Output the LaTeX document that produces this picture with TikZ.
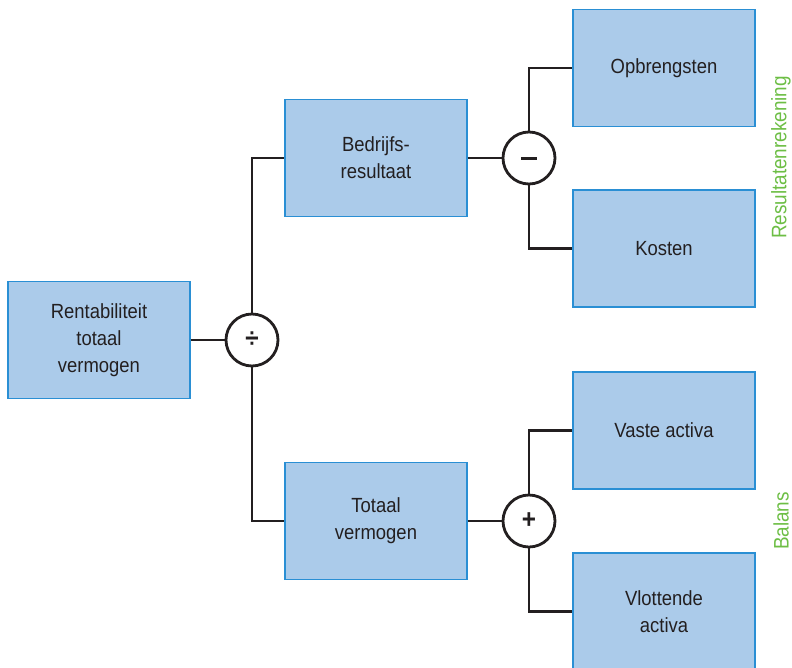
\documentclass[tikz,border=0pt]{standalone}
\usepackage{fontspec}
\setmainfont{Liberation Sans}[FakeStretch=0.9]
\definecolor{boxfill}{HTML}{ABCBEA}
\definecolor{boxline}{HTML}{2A8FD4}
\definecolor{linec}{HTML}{231F20}
\definecolor{greentxt}{HTML}{6DBE45}
\tikzset{
  bx/.style={draw=boxline, line width=1.3pt, fill=boxfill, minimum width=182pt, minimum height=117pt,
    inner sep=0pt, align=center, font=\fontsize{20.5}{27}\selectfont, text=linec},
  op/.style={circle, draw=linec, line width=2.8pt, fill=white, minimum size=52pt, inner sep=0pt,
    font=\fontsize{27}{27}\selectfont\bfseries, text=linec},
  conn/.style={draw=linec, line width=2.8pt},
  side/.style={text=greentxt, font=\fontsize{21}{21}\selectfont, rotate=90}
}
\begin{document}
\begin{tikzpicture}[x=1pt,y=-1pt]
\useasboundingbox (0,0) rectangle (792,667);
\clip (0,0) rectangle (792,667);
\node[bx] (rent) at (99,340) {Rentabiliteit\\totaal\\vermogen};
\node[bx] (bedr) at (376,158) {Bedrijfs-\\resultaat};
\node[bx] (totv) at (376,521) {Totaal\\vermogen};
\node[bx] (opbr) at (664,68) {Opbrengsten};
\node[bx] (kost) at (664,248.5) {Kosten};
\node[bx] (vast) at (664,430.5) {Vaste activa};
\node[bx] (vlot) at (664,611.5) {Vlottende\\activa};
\node[op] (div) at (252,340) {÷};
\node[op] (min) at (529,158) {\rule{16pt}{3pt}};
\node[op] (plus) at (529,521) {+};
\draw[conn] (rent.east) -- (div.west);
\draw[conn] (div.north) |- (bedr.west);
\draw[conn] (div.south) |- (totv.west);
\draw[conn] (bedr.east) -- (min.west);
\draw[conn] (min.north) |- (opbr.west);
\draw[conn] (min.south) |- (kost.west);
\draw[conn] (totv.east) -- (plus.west);
\draw[conn] (plus.north) |- (vast.west);
\draw[conn] (plus.south) |- (vlot.west);
\node[side] (rr) at (781,157.5) {Resultatenrekening};
\node[side] (bal) at (781,521) {Balans};
\end{tikzpicture}
\end{document}
